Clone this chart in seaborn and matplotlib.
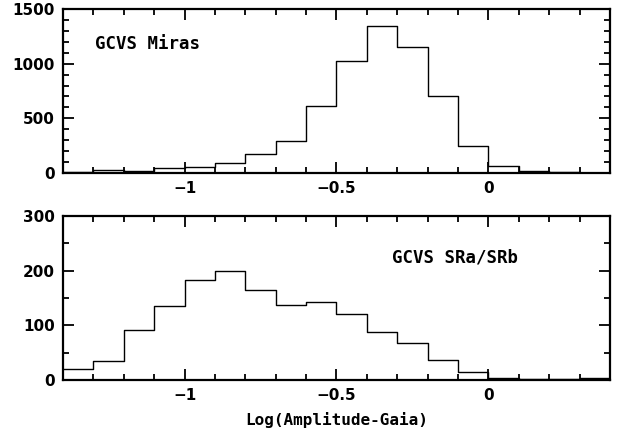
import numpy as np
import pandas as pd
import matplotlib
matplotlib.use("Agg")
import matplotlib.pyplot as plt
import seaborn as sns
from matplotlib.ticker import MultipleLocator

# Bin edges: Log(Amplitude-Gaia) from -1.4 to 0.4 in steps of 0.1
bin_edges = [-1.4, -1.3, -1.2, -1.1, -1.0, -0.9, -0.8, -0.7, -0.6, -0.5,
             -0.4, -0.3, -0.2, -0.1, 0.0, 0.1, 0.2, 0.3, 0.4]
mira_counts = [5, 28, 22, 43, 52, 91, 170, 290, 612, 1025,
               1347, 1148, 707, 248, 61, 18, 9, 3]
sr_counts = [20, 35, 92, 136, 183, 199, 165, 138, 142, 120,
             87, 67, 37, 14, 3, 2, 1, 3]
panel_labels = ["GCVS Miras", "GCVS SRa/SRb"]
xlabel = "Log(Amplitude-Gaia)"

sns.set_style("ticks")
plt.rcParams['font.family'] = ['DejaVu Sans']
plt.rcParams['text.color'] = 'black'
plt.rcParams['xtick.color'] = 'black'
plt.rcParams['ytick.color'] = 'black'
plt.rcParams['axes.edgecolor'] = 'black'
plt.rcParams['axes.labelcolor'] = 'black'

fig = plt.figure(figsize=(6.31, 4.37), dpi=100)
ax1 = fig.add_axes([0.0998, 0.6041, 0.8669, 0.3753])
ax2 = fig.add_axes([0.0998, 0.1304, 0.8669, 0.3753])

centers = [(a + b) / 2 for a, b in zip(bin_edges[:-1], bin_edges[1:])]

for ax, counts in [(ax1, mira_counts), (ax2, sr_counts)]:
    df = pd.DataFrame({"x": centers, "w": counts})
    sns.histplot(data=df, x="x", weights="w", bins=bin_edges, element="step",
                 fill=False, color="black", linewidth=1.0, ax=ax)
    ax.set_xlim(-1.4, 0.4)
    ax.xaxis.set_major_locator(MultipleLocator(0.5))
    ax.xaxis.set_minor_locator(MultipleLocator(0.1))
    ax.tick_params(which="both", direction="in", top=True, right=True,
                   width=1.3, labelsize=11, colors="black")
    ax.tick_params(which="major", length=8, pad=6)
    ax.tick_params(which="minor", length=4)
    for s in ax.spines.values():
        s.set_linewidth(1.6)
        s.set_visible(True)
        s.set_color("black")
    ax.set_ylabel("")
    ax.set_xlabel("")
    ax.xaxis.set_major_formatter(matplotlib.ticker.FuncFormatter(
        lambda v, p: ("\u2212" if v < -1e-9 else "") + ("%g" % abs(v))))

ax1.set_ylim(0, 1500)
ax1.yaxis.set_major_locator(MultipleLocator(500))
ax1.yaxis.set_minor_locator(MultipleLocator(100))
ax2.set_ylim(0, 300)
ax2.yaxis.set_major_locator(MultipleLocator(100))
ax2.yaxis.set_minor_locator(MultipleLocator(50))
fig.canvas.draw()
for ax in (ax1, ax2):
    for lab in ax.get_xticklabels() + ax.get_yticklabels():
        lab.set_fontweight("bold")
        lab.set_color("black")

ax1.text(0.058, 0.787, panel_labels[0], transform=ax1.transAxes,
         fontsize=12.5, fontweight="bold", family="DejaVu Sans Mono",
         va="center", ha="left", color="black")
ax2.text(0.601, 0.75, panel_labels[1], transform=ax2.transAxes,
         fontsize=12.5, fontweight="bold", family="DejaVu Sans Mono",
         va="center", ha="left", color="black")
ax2.set_xlabel(xlabel, fontsize=11.5, fontweight="bold",
               family="DejaVu Sans Mono", labelpad=6, color="black")

fig.savefig("out.png", dpi=100)
